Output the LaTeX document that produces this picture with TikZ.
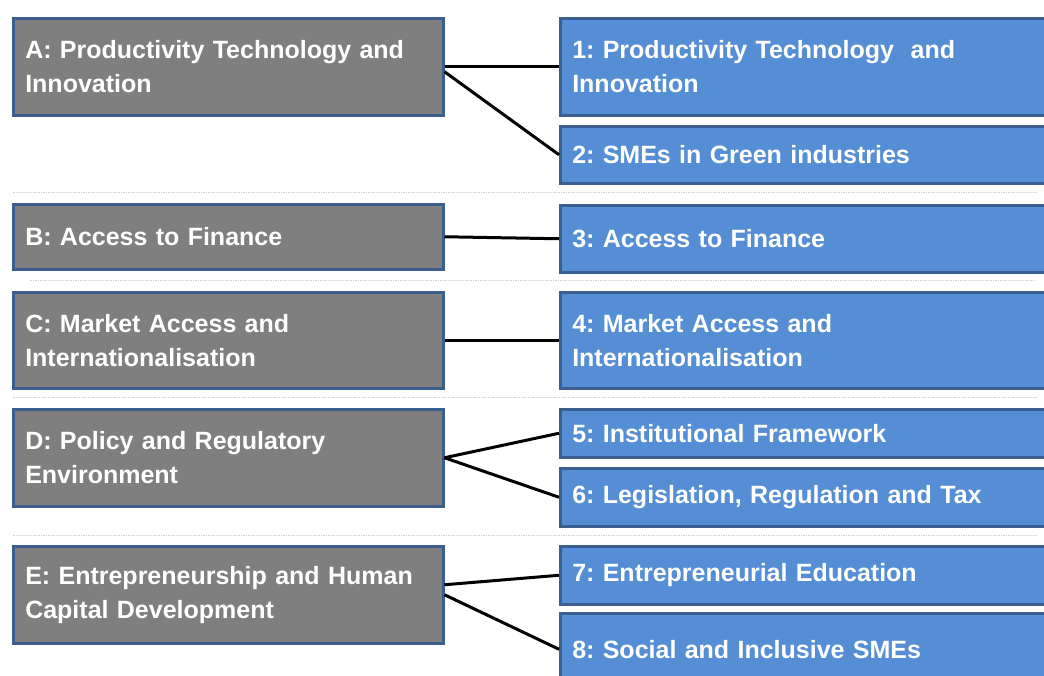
\documentclass[tikz,border=0pt]{standalone}
\usepackage{fontspec}
\setmainfont{Liberation Sans}
\usetikzlibrary{positioning}
\definecolor{pgray}{HTML}{7F7F7F}
\definecolor{pblue}{HTML}{558ED5}
\definecolor{pedge}{HTML}{3A5F8E}
\definecolor{psep}{HTML}{D2D2D2}

\tikzset{
  pillarbox/.style={draw=pedge, line width=2.5pt, fill=pgray, text=white,
    anchor=north west, align=left, text width=406pt,
    inner xsep=12pt, inner ysep=0pt,
    font=\bfseries\fontsize{25}{34}\selectfont\frenchspacing},
  areabox/.style={pillarbox, fill=pblue, text width=476pt},
  link/.style={line width=3pt, black},
  sepline/.style={psep, line width=0.8pt, dash pattern=on 1.5pt off 1pt}
}

\begin{document}
\begin{tikzpicture}[x=1pt, y=-1pt]
    \useasboundingbox (0,0) rectangle (1044,675);
    % separatoren
    \draw[sepline] (13,192) -- (1036,192);
    \draw[sepline] (30,280) -- (1036,280);
    \draw[sepline] (13,397) -- (1036,397);
    \draw[sepline] (13,535) -- (1036,535);
    % pijlers (links)
    \node[pillarbox, minimum height=97pt] (A) at (12,17)
      {A: Productivity Technology and\\Innovation};
    \node[pillarbox, minimum height=65pt] (B) at (12,203)
      {B: Access to Finance};
    \node[pillarbox, minimum height=96pt] (C) at (12,291)
      {C: Market Access and\\Internationalisation};
    \node[pillarbox, minimum height=97pt] (D) at (12,408)
      {D: Policy and Regulatory\\Environment};
    \node[pillarbox, minimum height=97pt] (E) at (12,545)
      {E: Entrepreneurship and Human\\Capital Development};
    % beleidsgebieden (rechts)
    \node[areabox, minimum height=97pt] (a1) at (559,17)
      {1: Productivity Technology\ \ and\\Innovation};
    \node[areabox, minimum height=57pt] (a2) at (559,125)
      {2: SMEs in Green industries};
    \node[areabox, minimum height=67pt] (a3) at (559,204)
      {3: Access to Finance};
    \node[areabox, minimum height=96pt] (a4) at (559,291)
      {4: Market Access and\\Internationalisation};
    \node[areabox, minimum height=48pt] (a5) at (559,408)
      {5: Institutional Framework};
    \node[areabox, minimum height=58pt] (a6) at (559,467)
      {6: Legislation, Regulation and Tax};
    \node[areabox, minimum height=58pt] (a7) at (559,545)
      {7: Entrepreneurial Education};
    \node[areabox, minimum height=72pt] (a8) at (559,612)
      {8: Social and Inclusive SMEs};
    % verbindingen
    \draw[link] (A.east) -- (a1.west);
    \draw[link] ([yshift=-5pt]A.east) -- (a2.west);
    \draw[link] (B.east) -- (a3.west);
    \draw[link] (C.east) -- (a4.west);
    \draw[link] (D.east) -- (a5.west);
    \draw[link] (D.east) -- (a6.west);
    \draw[link] ([yshift=10pt]E.east) -- (a7.west);
    \draw[link] (E.east) -- (a8.west);
\end{tikzpicture}
\end{document}
